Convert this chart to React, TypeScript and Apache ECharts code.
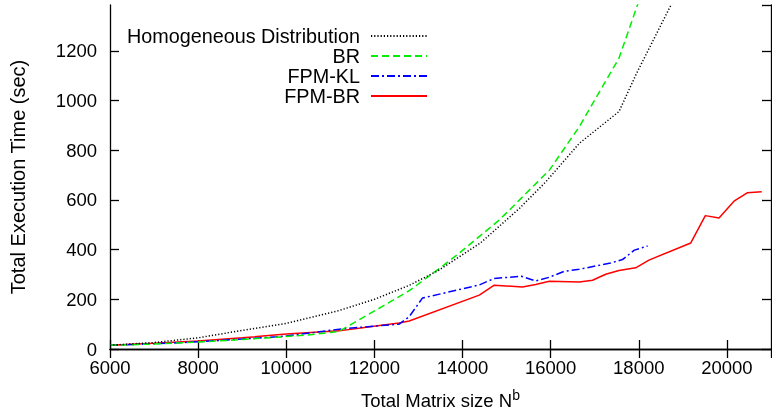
import React, { useEffect, useRef } from "react";
import * as echarts from "echarts";

const FONT = "'Liberation Sans', Arial, Helvetica, sans-serif";

const seriesNames = ["Homogeneous Distribution", "BR", "FPM-KL", "FPM-BR"];

const homX = [6000, 7000, 8000, 9000, 10000, 11200, 12000, 12800, 13470, 14400, 15290, 15890, 16650, 17550, 17950, 19000];
const homY = [15, 26, 45, 75, 103, 155, 200, 257, 318, 426, 566, 673, 828, 956, 1110, 1480];

const brX = [6000, 7000, 8000, 9000, 10000, 10600, 11200, 12100, 12800, 13470, 13920, 14830, 15100, 15970, 16650, 17550, 17970, 18200];
const brY = [15, 20, 28, 38, 50, 58, 71, 163, 236, 324, 385, 519, 566, 720, 895, 1171, 1385, 1500];

const klX = [6000, 7000, 8000, 9000, 10000, 11200, 12000, 12560, 12790, 13090, 14380, 14720, 15330, 15660, 15970, 16310, 16650, 17360, 17630, 17900, 18200];
const klY = [15, 21, 29, 40, 52, 80, 92, 100, 130, 205, 258, 284, 293, 274, 289, 313, 321, 346, 360, 398, 415];

const fbX = [6000, 7000, 8000, 9000, 10000, 11200, 11900, 12560, 12790, 14380, 14720, 15360, 15660, 15970, 16650, 16950, 17250, 17550, 17930, 18230, 19180, 19510, 19820, 20160, 20460, 20790];
const fbY = [15, 23, 32, 45, 60, 73, 90, 105, 113, 217, 257, 250, 260, 273, 270, 277, 301, 316, 327, 358, 427, 537, 527, 595, 629, 633];

const xMin = 6000;
const xMax = 21000;
const xStep = 2000;
const yMin = 0;
const yMax = 1385;
const yStep = 200;

const pairs = (xs: number[], ys: number[]) => xs.map((x, i) => [x, ys[i]]);

export default function App() {
  const ref = useRef<HTMLDivElement>(null);
  useEffect(() => {
    if (!ref.current) return;
    const chart = echarts.init(ref.current, undefined, { renderer: "svg" });
    const axisLine = { show: true, lineStyle: { color: "#000", width: 1.3 } };
    const tick = { show: true, inside: true, length: 9, lineStyle: { color: "#000", width: 1.3 } };
    const labelStyle = { color: "#000", fontSize: 18.5, fontFamily: FONT, formatter: (v: number) => String(v) };
    const styles = [
      { color: "#000000", type: [1.2, 2] as any, width: 1.5 },
      { color: "#00ee00", type: [7, 4] as any, width: 1.5 },
      { color: "#0000ff", type: [8, 3, 2, 3] as any, width: 1.5 },
      { color: "#ff0000", type: "solid" as any, width: 1.5 },
    ];
    const datas = [pairs(homX, homY), pairs(brX, brY), pairs(klX, klY), pairs(fbX, fbY)];
    chart.setOption({
      animation: false,
      grid: { left: 110, right: 1, top: 5, bottom: 61, containLabel: false, outerBoundsMode: "none" },
      legend: seriesNames.map((n, i) => ({
        data: [n],
        right: 344,
        top: 26 + i * 20,
        orient: "horizontal",
        align: "right",
        itemWidth: 56,
        itemHeight: 10,
        padding: 0,
        itemGap: 0,
        selectedMode: false,
        itemStyle: { opacity: 0 },
        textStyle: { color: "#000", fontSize: 19.8, fontFamily: FONT, padding: [0, 6, 0, 0] },
      })),
      xAxis: [
        {
          type: "value",
          position: "bottom",
          min: xMin,
          max: xMax,
          interval: xStep,
          axisLine,
          axisTick: tick,
          splitLine: { show: false },
          axisLabel: { ...labelStyle, margin: 9, showMaxLabel: false },
          name: "{t|Total Matrix size N}{s|b}",
          nameLocation: "middle",
          nameGap: 39,
          nameTextStyle: {
            color: "#000",
            fontFamily: FONT,
            rich: {
              t: { fontSize: 18.5, fontFamily: FONT, color: "#000", lineHeight: 22, verticalAlign: "bottom" },
              s: { fontSize: 14, fontFamily: FONT, color: "#000", lineHeight: 11, verticalAlign: "top" },
            },
          },
        },
        {
          type: "value",
          position: "top",
          min: xMin,
          max: xMax,
          interval: xStep,
          axisLine,
          axisTick: tick,
          splitLine: { show: false },
          axisLabel: { show: false },
        },
      ],
      yAxis: [
        {
          type: "value",
          position: "left",
          min: yMin,
          max: yMax,
          interval: yStep,
          axisLine,
          axisTick: tick,
          splitLine: { show: false },
          axisLabel: { ...labelStyle, margin: 13, showMaxLabel: false },
          name: "Total Execution Time (sec)",
          nameLocation: "middle",
          nameGap: 82,
          nameTextStyle: { color: "#000", fontSize: 20, fontFamily: FONT },
        },
        {
          type: "value",
          position: "right",
          min: yMin,
          max: yMax,
          interval: yStep,
          axisLine,
          axisTick: tick,
          splitLine: { show: false },
          axisLabel: { show: false },
        },
      ],
      series: seriesNames.map((n, i) => ({
        name: n,
        type: "line",
        xAxisIndex: 0,
        yAxisIndex: 0,
        data: datas[i],
        symbol: "none",
        clip: true,
        lineStyle: styles[i],
        itemStyle: { color: styles[i].color },
        color: styles[i].color,
        z: 10 - i,
      })),
    });
    return () => chart.dispose();
  }, []);
  return <div ref={ref} style={{ position: "fixed", left: 0, top: 0, width: 772, height: 410 }} />;
}
